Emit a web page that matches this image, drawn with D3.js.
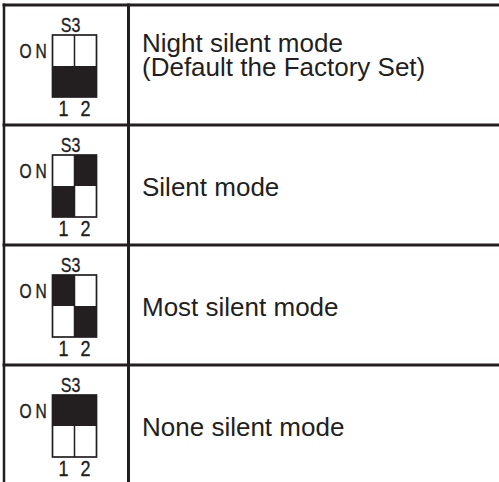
<!DOCTYPE html>
<html><head><meta charset="utf-8">
<script src="https://cdn.jsdelivr.net/npm/d3@7"></script>
<style>
html,body{margin:0;padding:0;background:#fff;}
svg{display:block;}
</style></head>
<body>
<svg id="c" width="499" height="482"></svg>
<script>
// data
const modes = [
  ["Night silent mode", "(Default the Factory Set)"],
  ["Silent mode"],
  ["Most silent mode"],
  ["None silent mode"]
];
// switch positions: 1 = ON (knob up), 0 = OFF (knob down)
const switch1 = [0, 0, 1, 1];
const switch2 = [0, 1, 0, 1];
const switchName = "S3";
const onLabel = "ON";
const pinLabels = ["1", "2"];

const ink = "#231f20";
const svg = d3.select("#c");
const W = 499, H = 482;

const rowIdx = d3.range(modes.length);
const y = d3.scaleBand().domain(rowIdx).range([5, 485]).padding(0);
const colX = d3.scaleOrdinal().domain(["left","div"]).range([4, 128.5]);

// switch geometry helpers
const swX = d3.scaleBand().domain(pinLabels).range([52.5, 96.5]);
const swY = d3.scaleBand().domain([1, 0]).range([0, 62]); // ON on top

// table lines
svg.append("g").selectAll("line.h").data(rowIdx).join("line")
  .attr("x1", colX("left") - 1.5).attr("x2", W)
  .attr("y1", d => y(d)).attr("y2", d => y(d))
  .attr("stroke", ink).attr("stroke-width", 3);
svg.append("line").attr("x1", colX("left")).attr("x2", colX("left"))
  .attr("y1", y(0) - 1.5).attr("y2", H).attr("stroke", ink).attr("stroke-width", 2.5);
svg.append("line").attr("x1", colX("div")).attr("x2", colX("div"))
  .attr("y1", y(0) - 1.5).attr("y2", H).attr("stroke", ink).attr("stroke-width", 3);

const sans = "'Liberation Sans',Arial,Helvetica,sans-serif";

const rows = svg.append("g").selectAll("g.row").data(rowIdx).join("g")
  .attr("transform", d => `translate(0,${y(d) + 30})`);

// switch cells
rows.each(function(i) {
  const g = d3.select(this);
  const states = [switch1[i], switch2[i]];
  pinLabels.forEach((p, k) => {
    g.append("rect").attr("x", swX(p)).attr("y", swY(states[k]))
      .attr("width", swX.bandwidth()).attr("height", swY.bandwidth())
      .attr("fill", ink);
  });
  g.append("rect").attr("x", swX(pinLabels[0])).attr("y", 0)
    .attr("width", swX.bandwidth() * 2).attr("height", 62)
    .attr("fill", "none").attr("stroke", ink).attr("stroke-width", 1.7);
  g.append("line").attr("x1", swX(pinLabels[1])).attr("x2", swX(pinLabels[1]))
    .attr("y1", 0).attr("y2", 62).attr("stroke", ink).attr("stroke-width", 1.5);
  g.append("text").attr("transform", "translate(70.5,-3) scale(0.82,1)")
    .attr("text-anchor", "middle").attr("font-family", sans).attr("font-size", 19.5)
    .attr("fill", ink).attr("stroke", ink).attr("stroke-width", 0.35).text(switchName);
  g.append("text").attr("transform", "translate(19.5,22.5) scale(0.76,1)")
    .attr("font-family", sans).attr("font-size", 20.5).attr("letter-spacing", 5)
    .attr("fill", ink).attr("stroke", ink).attr("stroke-width", 0.45).text(onLabel);
  pinLabels.forEach(p => {
    g.append("text")
      .attr("transform", `translate(${swX(p) + swX.bandwidth() / 2},81) scale(0.8,1)`)
      .attr("text-anchor", "middle").attr("font-family", sans).attr("font-size", 22.5)
      .attr("fill", ink).attr("stroke", ink).attr("stroke-width", 0.4).text(p);
  });
});

// description text
svg.append("g").selectAll("text").data(rowIdx).join("text")
  .attr("font-family", sans).attr("font-size", 26)
  .attr("fill", ink)
  .each(function(i) {
    const t = d3.select(this);
    const lines = modes[i];
    const mid = y(i) + y.bandwidth() / 2;
    const lh = 24;
    const last = mid + 11;
    lines.forEach((l, k) => {
      t.append("tspan").attr("x", 142)
        .attr("y", last - (lines.length - 1 - k) * lh).text(l);
    });
  });
</script>
</body></html>
